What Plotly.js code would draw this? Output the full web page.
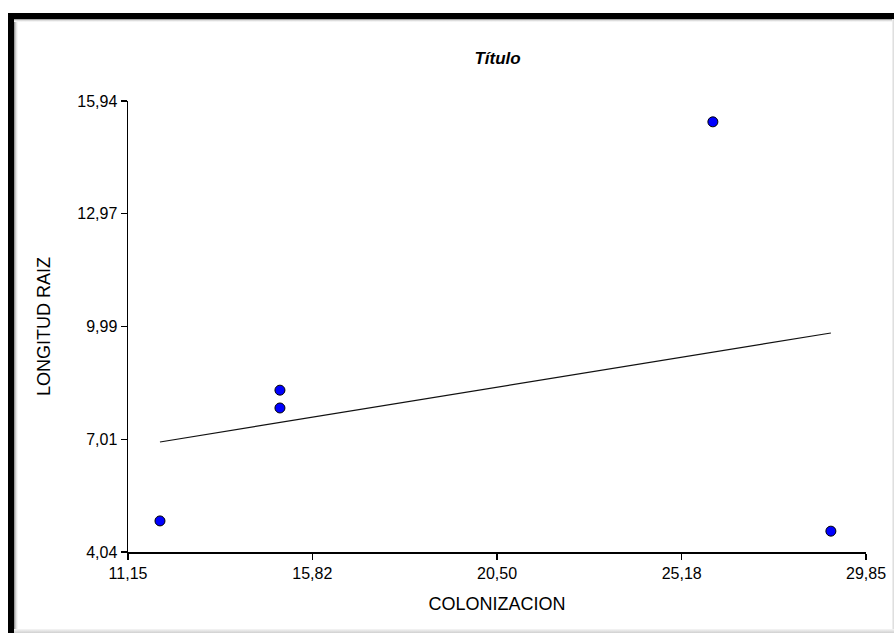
<!DOCTYPE html>
<html>
<head>
<meta charset="utf-8">
<script src="https://cdn.plot.ly/plotly-3.0.1.min.js"></script>
<style>
  html, body { margin: 0; padding: 0; background: #ffffff; }
  #wrap { position: relative; width: 894px; height: 633px; overflow: hidden; }
  #chart { position: absolute; left: 0; top: 0; width: 894px; height: 633px; }
  .frame { position: absolute; pointer-events: none; }
</style>
</head>
<body>
<div id="wrap">
  <div id="chart"></div>
  <div class="frame" style="left:8px; top:13px; width:6px; height:620px; background:#000;"></div>
  <div class="frame" style="left:8px; top:13px; width:886px; height:6px; background:#000;"></div>
  <div class="frame" style="left:14px; top:19px; width:4px; height:614px; background:linear-gradient(to right,#888,#ddd,#fff);"></div>
  <div class="frame" style="left:14px; top:19px; width:880px; height:3px; background:linear-gradient(to bottom,#888,#ddd,#fff);"></div>
  <div class="frame" style="left:892px; top:19px; width:2px; height:614px; background:linear-gradient(to right,#f4f4f4,#d8d8d8);"></div>
  <div class="frame" style="left:14px; top:629px; width:880px; height:4px; background:linear-gradient(to bottom,#f6f6f6,#d0d0d0);"></div>
</div>
<script>
// Data
var colonizacion = [11.96, 15.00, 15.00, 25.97, 28.96];
var longitudRaiz = [4.86, 8.31, 7.84, 15.39, 4.59];

var xTickVals = [11.15, 15.82, 20.50, 25.18, 29.85];
var xTickText = ["11,15", "15,82", "20,50", "25,18", "29,85"];
var yTickVals = [4.04, 7.01, 9.99, 12.97, 15.94];
var yTickText = ["4,04", "7,01", "9,99", "12,97", "15,94"];

var xRange = [11.15, 29.85];
var yRange = [4.04, 15.94];

// Least-squares fit line through the data, drawn between min and max x
var n = colonizacion.length;
var mx = colonizacion.reduce(function(a, b) { return a + b; }, 0) / n;
var my = longitudRaiz.reduce(function(a, b) { return a + b; }, 0) / n;
var sxy = 0, sxx = 0;
for (var i = 0; i < n; i++) {
  sxy += (colonizacion[i] - mx) * (longitudRaiz[i] - my);
  sxx += (colonizacion[i] - mx) * (colonizacion[i] - mx);
}
var slope = sxy / sxx;
var intercept = my - slope * mx;
var xMin = Math.min.apply(null, colonizacion);
var xMax = Math.max.apply(null, colonizacion);
var fitX = [xMin, xMax];
var fitY = fitX.map(function(x) { return intercept + slope * x; });

var font = "Liberation Sans, Arial, sans-serif";

var traces = [
  {
    x: fitX, y: fitY, type: "scatter", mode: "lines",
    line: { color: "#111111", width: 1.2 },
    hoverinfo: "skip", showlegend: false, cliponaxis: false
  },
  {
    x: colonizacion, y: longitudRaiz, type: "scatter", mode: "markers",
    marker: { color: "#0000ff", size: 10, line: { color: "#000000", width: 1 } },
    showlegend: false, cliponaxis: false
  }
];

var layout = {
  width: 894, height: 633,
  margin: { l: 128, r: 28, t: 101, b: 81, pad: 0 },
  paper_bgcolor: "#ffffff", plot_bgcolor: "#ffffff",
  font: { family: font, color: "#000000", size: 16 },
  title: {
    text: "<b><i>Título</i></b>",
    font: { family: font, size: 17, color: "#000000" },
    x: 0.5565, xanchor: "center", y: 0.908, yanchor: "middle"
  },
  xaxis: {
    range: xRange, tickmode: "array", tickvals: xTickVals, ticktext: xTickText,
    showgrid: false, zeroline: false, showline: true, linecolor: "#000000", linewidth: 1.5,
    ticks: "outside", ticklen: 6, tickwidth: 1.5, tickcolor: "#000000",
    tickfont: { family: font, size: 16, color: "#000000" },
    title: { text: "COLONIZACION", font: { family: font, size: 18, color: "#000000" }, standoff: 16 }
  },
  yaxis: {
    range: yRange, tickmode: "array", tickvals: yTickVals, ticktext: yTickText,
    showgrid: false, zeroline: false, showline: true, linecolor: "#000000", linewidth: 1.5,
    ticks: "outside", ticklen: 6, tickwidth: 1.5, tickcolor: "#000000",
    tickfont: { family: font, size: 16, color: "#000000" },
    title: { text: "LONGITUD RAIZ", font: { family: font, size: 18, color: "#000000" }, standoff: 22 }
  }
};

Plotly.newPlot("chart", traces, layout, { displayModeBar: false, staticPlot: true });
</script>
</body>
</html>
